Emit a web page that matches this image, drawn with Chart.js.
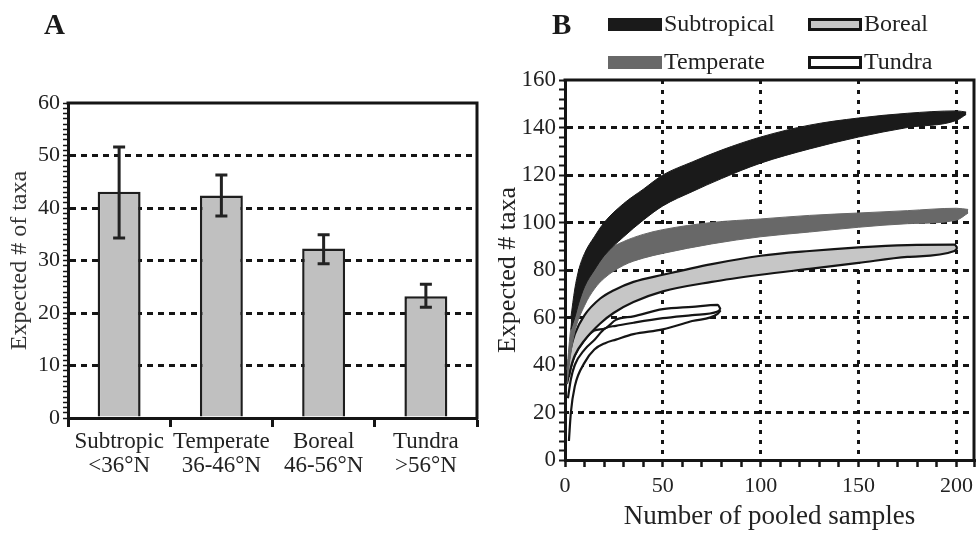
<!DOCTYPE html>
<html>
<head>
<meta charset="utf-8">
<script src="https://cdn.jsdelivr.net/npm/chart.js@4.4.1/dist/chart.umd.min.js"></script>
<style>
    body { margin: 0; background: #fff; width: 980px; height: 533px; overflow: hidden; position: relative; font-family: 'Liberation Serif', serif; }
    .panel { position: absolute; top: 0; width: 490px; height: 533px; }
    #panelA { left: 0; }
    #panelB { left: 490px; }
    .letter { position: absolute; top: 8px; font-weight: bold; font-size: 29px; color: #1a1a1a; }
</style>
</head>
<body>
<div class="panel" id="panelA"><canvas id="chartA"></canvas></div>
<div class="panel" id="panelB"><canvas id="chartB"></canvas></div>
<div class="letter" style="left:44px">A</div>
<div class="letter" style="left:552px">B</div>
<script>
// Panel A: expected # of taxa per latitude zone
const zones = [['Subtropic', '<36°N'], ['Temperate', '36-46°N'], ['Boreal', '46-56°N'], ['Tundra', '>56°N']];
const meanTaxa = [43.1, 42.4, 32.3, 23.2];
const errLow = [34.3, 38.5, 29.4, 21.1];
const errHigh = [51.6, 46.3, 34.9, 25.5];

// Panel B: rarefaction bands (upper / lower bound of each zone)
const subX = [3, 5, 7, 10, 15, 20, 30, 40, 50, 65, 80, 100, 125, 150, 175, 200, 205];
const subHi = [60, 72, 80, 87, 94, 100, 108, 114, 120, 125.5, 130.5, 136, 141, 144, 146, 147, 146.5];
const subLo = [55, 60, 66, 73, 80, 86, 94, 101, 107, 113, 118.5, 125, 131, 136, 140, 143, 145.5];

const temX = [1, 3, 5, 10, 15, 20, 30, 40, 50, 75, 100, 125, 150, 175, 200, 206];
const temHi = [38, 56, 65, 76, 83, 87.5, 92, 95, 97, 100, 101.5, 103, 104, 105, 106, 105.5];
const temLo = [32, 45, 54, 65, 72, 76.5, 82, 85, 87, 91, 94, 96, 98, 99.5, 101, 104];

const borX = [1, 3, 5, 10, 18, 25, 35, 50, 75, 100, 125, 150, 175, 199, 200.5];
const borHi = [37, 47, 53, 61, 68, 71.5, 75, 78, 82.5, 86, 88, 89.5, 90.5, 90.7, 89.3];
const borLo = [32, 39, 44, 50.5, 57.5, 62, 66.5, 71, 75, 78, 80.5, 83, 85.5, 88, 89.3];

const tunX = [2, 3, 5, 10, 15, 20.5, 26, 35, 50, 65, 78, 79.5];
const tunHi = [35, 39, 44, 50.5, 54.5, 55.4, 59, 60.5, 63.5, 64.5, 65.3, 63.5];
const tunLo = [8, 20, 31, 41, 46.5, 49.2, 50.7, 53, 55, 58.5, 61.5, 63];
const tunMidX = [1.5, 3, 5, 10, 15, 20.5, 26, 35, 50, 65, 78, 79.5];
const tunMid = [26, 34, 40, 46.5, 50.5, 55.4, 56.5, 57.8, 59.7, 61, 62.5, 63.5];

const legendOrder = ['Subtropical', 'Boreal', 'Temperate', 'Tundra'];

const SERIF = "'Liberation Serif', 'Times New Roman', serif";
Chart.defaults.font.family = SERIF;
Chart.defaults.color = '#222';

const INK = '#151515';
const swatch = {
    Subtropical: { fill: '#1a1a1a', stroke: null },
    Temperate: { fill: '#686868', stroke: null },
    Boreal: { fill: '#c6c6c6', stroke: INK },
    Tundra: { fill: '#ffffff', stroke: INK }
};

function pts(xs, ys) {
    return xs.map((x, i) => ({ x: x, y: ys[i] }));
}

// top + right edges of the plot box
const frame = {
    id: 'frame',
    afterDatasetsDraw(chart) {
        const { ctx, chartArea: a } = chart;
        ctx.save();
        ctx.lineWidth = 3;
        ctx.strokeStyle = INK;
        ctx.beginPath();
        ctx.moveTo(a.left - 1.5, a.top);
        ctx.lineTo(a.right, a.top);
        ctx.lineTo(a.right, a.bottom + 1.5);
        ctx.stroke();
        ctx.restore();
    }
};

const errorBars = {
    id: 'errorBars',
    afterDatasetsDraw(chart) {
        const { ctx, scales: { y } } = chart;
        const meta = chart.getDatasetMeta(0);
        ctx.save();
        ctx.strokeStyle = '#222';
        ctx.lineWidth = 3;
        meta.data.forEach((bar, i) => {
            const yl = y.getPixelForValue(errLow[i]);
            const yh = y.getPixelForValue(errHigh[i]);
            ctx.beginPath();
            ctx.moveTo(bar.x, yl); ctx.lineTo(bar.x, yh);
            ctx.moveTo(bar.x - 6, yl); ctx.lineTo(bar.x + 6, yl);
            ctx.moveTo(bar.x - 6, yh); ctx.lineTo(bar.x + 6, yh);
            ctx.stroke();
        });
        ctx.restore();
    }
};

const legendB = {
    id: 'legendB',
    afterDraw(chart) {
        const ctx = chart.ctx;
        ctx.save();
        ctx.font = '24px ' + SERIF;
        ctx.textBaseline = 'alphabetic';
        legendOrder.forEach((name, i) => {
            const bx = 118 + (i % 2) * 200;
            const base = 31 + Math.floor(i / 2) * 38;
            const s = swatch[name];
            ctx.fillStyle = s.fill;
            ctx.fillRect(bx, base - 13, 54, 13);
            if (s.stroke) {
                ctx.lineWidth = 3;
                ctx.strokeStyle = s.stroke;
                ctx.strokeRect(bx + 1.5, base - 11.5, 51, 10);
            }
            ctx.fillStyle = '#222';
            ctx.fillText(name, bx + 56, base);
        });
        ctx.restore();
    }
};

new Chart(document.getElementById('chartA'), {
    type: 'bar',
    data: {
        labels: zones,
        datasets: [{
            data: meanTaxa,
            backgroundColor: '#c0c0c0',
            borderColor: '#1e1e1e',
            borderWidth: 2.5,
            barPercentage: 0.42,
            categoryPercentage: 1
        }]
    },
    options: {
        responsive: true,
        maintainAspectRatio: false,
        animation: false,
        layout: { padding: { top: 103, right: 13, bottom: 40, left: 0 } },
        plugins: { legend: { display: false }, tooltip: { enabled: false } },
        scales: {
            x: {
                grid: { offset: true, drawOnChartArea: false, tickLength: 9, tickWidth: 3, tickColor: INK },
                border: { color: INK, width: 3 },
                ticks: { autoSkip: false, maxRotation: 0, minRotation: 0, font: { size: 23, lineHeight: 1.05 }, padding: 3, color: '#222' },
                afterFit: s => { s.height = 75; }
            },
            y: {
                min: 0,
                max: 60,
                ticks: {
                    stepSize: 1,
                    autoSkip: false,
                    callback: v => (v % 10 === 0 ? v : ''),
                    font: { size: 22 },
                    padding: 3,
                    color: '#222'
                },
                grid: {
                    color: c => (c.tick && c.tick.value % 10 === 0 && c.tick.value > 0 && c.tick.value < 60 ? INK : 'rgba(0,0,0,0)'),
                    lineWidth: 3,
                    tickColor: INK,
                    tickLength: 5,
                    tickWidth: 1.5
                },
                border: { color: INK, width: 3, dash: [6, 5] },
                title: { display: true, text: 'Expected # of taxa', font: { size: 24 }, color: '#333', padding: { top: 5, bottom: 0 } },
                afterFit: s => { s.width = 68; }
            }
        }
    },
    plugins: [errorBars, frame]
});

const lineBase = { pointRadius: 0, cubicInterpolationMode: 'monotone', fill: false };

new Chart(document.getElementById('chartB'), {
    type: 'line',
    data: {
        datasets: [
            { ...lineBase, label: 'Subtropical', data: pts(subX, subHi), borderColor: '#1a1a1a', borderWidth: 1 },
            { ...lineBase, label: 'Subtropical low', data: pts(subX, subLo), borderColor: '#1a1a1a', borderWidth: 1, backgroundColor: '#1a1a1a', fill: '-1' },
            { ...lineBase, label: 'Temperate', data: pts(temX, temHi), borderColor: '#686868', borderWidth: 1 },
            { ...lineBase, label: 'Temperate low', data: pts(temX, temLo), borderColor: '#686868', borderWidth: 1, backgroundColor: '#686868', fill: '-1' },
            { ...lineBase, label: 'Boreal', data: pts(borX, borHi), borderColor: INK, borderWidth: 2.2 },
            { ...lineBase, label: 'Boreal low', data: pts(borX, borLo), borderColor: INK, borderWidth: 2.2, backgroundColor: '#c6c6c6', fill: '-1' },
            { ...lineBase, label: 'Tundra', data: pts(tunX, tunHi), borderColor: INK, borderWidth: 2.2 },
            { ...lineBase, label: 'Tundra mid', data: pts(tunMidX, tunMid), borderColor: INK, borderWidth: 2.2 },
            { ...lineBase, label: 'Tundra low', data: pts(tunX, tunLo), borderColor: INK, borderWidth: 2.2, backgroundColor: '#ffffff', fill: '-2' }
        ]
    },
    options: {
        responsive: true,
        maintainAspectRatio: false,
        animation: false,
        layout: { padding: { top: 80, right: 3, bottom: 0, left: 0 } },
        plugins: { legend: { display: false }, tooltip: { enabled: false } },
        scales: {
            x: {
                type: 'linear',
                min: 0,
                max: 209,
                bounds: 'data',
                ticks: {
                    stepSize: 10,
                    includeBounds: false,
                    autoSkip: false,
                    maxRotation: 0,
                    callback: v => (v % 50 === 0 ? v : ''),
                    font: { size: 22 },
                    padding: 6,
                    color: '#222'
                },
                grid: {
                    color: c => (c.tick && c.tick.value % 50 === 0 && c.tick.value > 0 ? INK : 'rgba(0,0,0,0)'),
                    lineWidth: 3,
                    tickColor: INK,
                    tickLength: 7,
                    tickWidth: 2.5
                },
                border: { color: INK, width: 3, dash: [4, 6] },
                title: { display: true, text: 'Number of pooled samples', font: { size: 27 }, color: '#222', padding: 0 },
                afterFit: s => { s.height = 73; }
            },
            y: {
                min: 0,
                max: 160,
                ticks: {
                    stepSize: 4,
                    autoSkip: false,
                    callback: v => (v % 20 === 0 ? v : ''),
                    font: { size: 23 },
                    padding: 3,
                    color: '#222'
                },
                grid: {
                    color: c => (c.tick && c.tick.value % 20 === 0 && c.tick.value > 0 && c.tick.value < 160 ? INK : 'rgba(0,0,0,0)'),
                    lineWidth: 3,
                    tickColor: INK,
                    tickLength: 6,
                    tickWidth: 2
                },
                border: { color: INK, width: 3, dash: [6, 5] },
                title: { display: true, text: 'Expected # taxa', font: { size: 26 }, color: '#222', padding: { top: 3, bottom: 0 } },
                afterFit: s => { s.width = 75; }
            }
        }
    },
    plugins: [frame, legendB]
});
</script>
</body>
</html>
